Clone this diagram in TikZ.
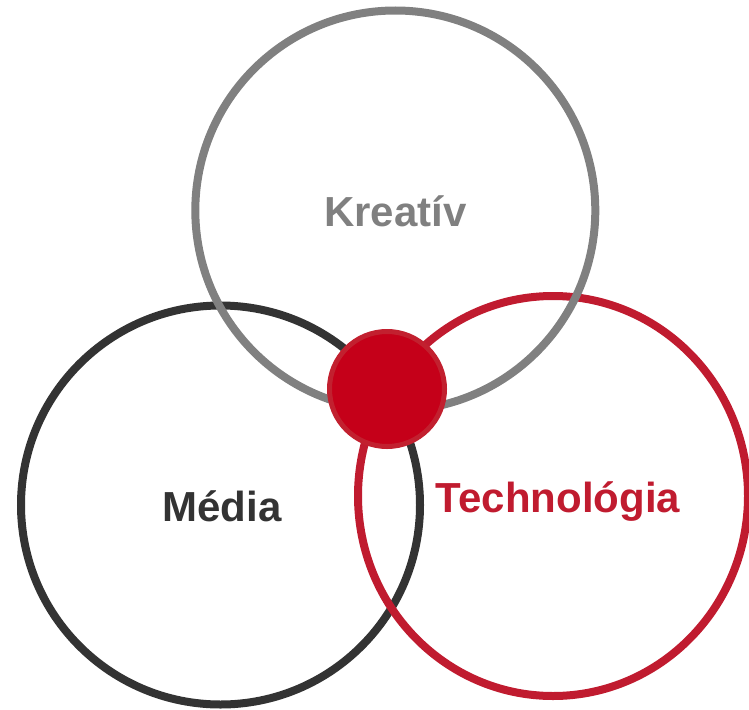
\documentclass[tikz,border=0pt]{standalone}
\usepackage{fontspec}
\setmainfont{Liberation Sans}
\definecolor{kgray}{HTML}{808080}
\definecolor{mdark}{HTML}{333333}
\definecolor{tred}{HTML}{C01B2F}
\definecolor{cfill}{HTML}{C50019}
\definecolor{cring}{HTML}{C2202F}
\begin{document}
\begin{tikzpicture}[x=1pt,y=-1pt,
  ring/.style={line width=8pt},
  lbl/.style={font=\fontsize{42}{48}\selectfont\bfseries, inner sep=0pt, anchor=base}]
\useasboundingbox (0,0) rectangle (749,709);
\clip (0,0) rectangle (749,709);
\draw[ring, mdark] (220.5,505) coordinate (media) circle[radius=199.5];
\draw[ring, tred] (553,496) coordinate (tech) ellipse[x radius=195, y radius=200];
\draw[ring, kgray] (395.3,210.5) coordinate (kreat) circle[radius=200];
\draw[line width=5pt, draw=cring, fill=cfill] (387,389) coordinate (core) circle[radius=57.5];
\node[lbl, text=kgray] (kreativ) at (395.5,226) {Kreatív};
\node[lbl, text=mdark] (medialbl) at (222,521) {Média};
\node[lbl, text=tred] (techlbl) at (558,512) {Technológia};
\end{tikzpicture}
\end{document}
